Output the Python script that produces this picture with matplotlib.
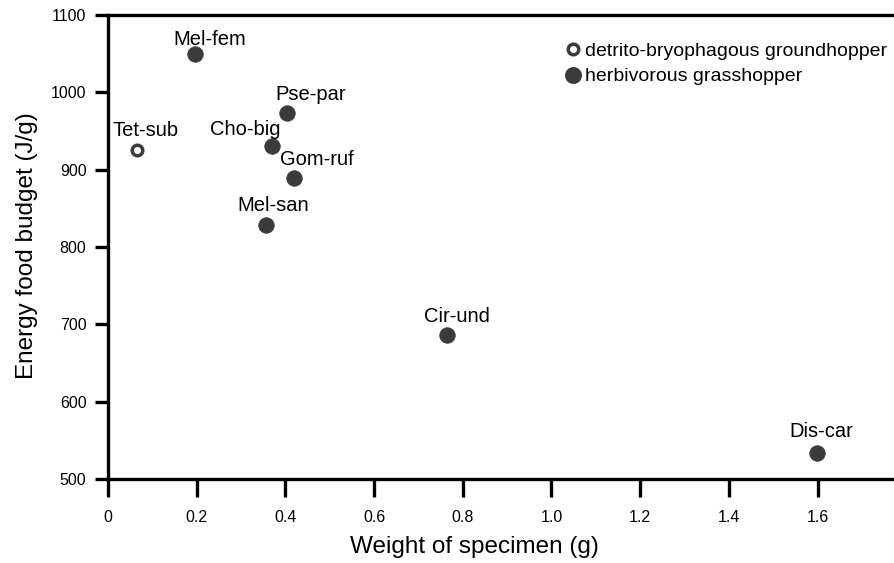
import matplotlib.pyplot as plt

plt.rcParams['font.family'] = ['Liberation Sans', 'DejaVu Sans']

# species abbreviations, weight (g), energy food budget (J/g)
species = ['Tet-sub', 'Mel-fem', 'Pse-par', 'Cho-big', 'Gom-ruf', 'Mel-san', 'Cir-und', 'Dis-car']
weight = [0.065, 0.196, 0.404, 0.37, 0.419, 0.356, 0.764, 1.599]
energy = [925, 1050, 973, 931, 889, 828, 686, 533]
group = ['detrito', 'herb', 'herb', 'herb', 'herb', 'herb', 'herb', 'herb']

# label offsets in pixels (dx, dy) relative to the marker centre
label_dx = [9, 15, 24, -27, 23, 7, 10, 4]
label_dy = [14, 9, 13, 11, 13, 14, 13, 16]

dark = '#3b3b3b'

fig = plt.figure(figsize=(8.95, 5.63), dpi=100)
ax = fig.add_axes([108 / 895, 1 - 479 / 563, 1 - 108 / 895, (479 - 15) / 563])

for x, y, g in zip(weight, energy, group):
    if g == 'detrito':
        ax.plot(x, y, 'o', ms=7.6, mfc='white', mec=dark, mew=2.5, clip_on=False)
    else:
        ax.plot(x, y, 'o', ms=11.2, mfc=dark, mec=dark, mew=0.5, clip_on=False)

for name, x, y, dx, dy in zip(species, weight, energy, label_dx, label_dy):
    ax.annotate(name, (x, y), xytext=(dx, dy), textcoords='offset pixels',
                ha='center', va='baseline', fontsize=14.5, color='black')

ax.set_xlim(0, (895 - 108) / 443.5)
ax.set_ylim(500, 1100)
ax.set_xticks([0, 0.2, 0.4, 0.6, 0.8, 1.0, 1.2, 1.4, 1.6])
ax.set_xticklabels(['0', '0.2', '0.4', '0.6', '0.8', '1.0', '1.2', '1.4', '1.6'])
ax.set_yticks([500, 600, 700, 800, 900, 1000, 1100])

ax.spines['right'].set_visible(False)
for s in ['left', 'top', 'bottom']:
    ax.spines[s].set_linewidth(2.4)
ax.tick_params(axis='y', direction='out', length=9.5, width=2.4, pad=6, labelsize=11.5)
ax.tick_params(axis='x', direction='out', length=13, width=2.4, pad=9, labelsize=11.5)

ax.set_xlabel('Weight of specimen (g)', fontsize=17.5)
ax.xaxis.set_label_coords(0.465, -0.123)
ax.set_ylabel('Energy food budget (J/g)', fontsize=17.5)
ax.yaxis.set_label_coords(-0.089, 0.504)

# legend
h1, = ax.plot([], [], 'o', ms=7.6, mfc='white', mec=dark, mew=2.5)
h2, = ax.plot([], [], 'o', ms=11.2, mfc=dark, mec=dark)
ax.legend([h1, h2], ['detrito-bryophagous groundhopper', 'herbivorous grasshopper'],
          loc='upper left', bbox_to_anchor=((567 - 108) / 787, 0.941), frameon=False,
          fontsize=14, handlelength=0.6, handletextpad=0.33, labelspacing=0.4,
          borderpad=0, borderaxespad=0)

fig.savefig('out.png', dpi=100)
